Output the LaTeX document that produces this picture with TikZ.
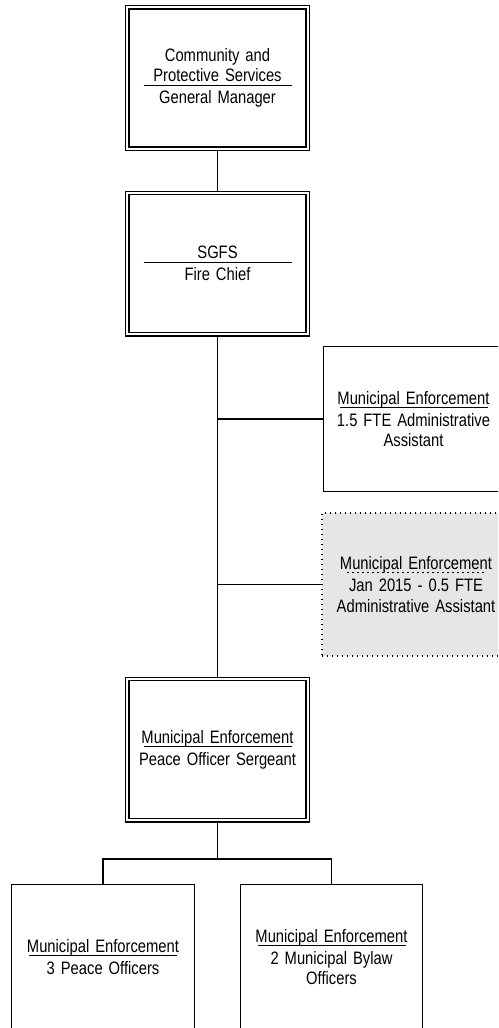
\documentclass[tikz,border=0pt]{standalone}
\usepackage{fontspec}
\setmainfont{Liberation Sans}[FakeStretch=0.82]
\definecolor{tempfill}{RGB}{230,230,230}
% solid divider between the unit name and the position title
\newcommand{\orgrule}{\\[-16.8pt]\rule{148pt}{0.7pt}\\[-2.2pt]}
% dotted divider for the planned position
\newcommand{\orgdots}{\\[-16.8pt]\makebox[141pt]{\leaders\hbox to 5pt{\hss\rule{1.1pt}{1.1pt}\hss}\hfill}\\[-2.2pt]}
\begin{document}
\begin{tikzpicture}[x=1pt,y=-1pt,
  orgtext/.style={align=center, text width=176pt, inner sep=0pt,
    font=\fontsize{18}{20.5}\selectfont,
    execute at begin node={\lineskiplimit=-100pt\relax}},
  dblbox/.style={orgtext, draw, line width=1.3pt, double=white,
    double distance=2pt, minimum width=180.4pt, minimum height=141.4pt,
    outer sep=2.3pt},
  onebox/.style={orgtext, draw, line width=1.4pt},
  tempbox/.style={orgtext, draw, fill=tempfill, line width=1.2pt,
    dash pattern=on 1.2pt off 3.8pt},
  conn/.style={draw, line width=1.4pt}
]
\path[use as bounding box] (0,0) rectangle (498,1028);
\clip (0,0) rectangle (498,1028);

% management chain
\node[dblbox] (gm) at (217.5,78) {Community and\\Protective Services\orgrule General Manager};
\node[dblbox] (chief) at (217.5,263.5) {SGFS\orgrule Fire Chief};
\node[dblbox] (sgt) at (217.5,749.5) {Municipal Enforcement\orgrule Peace Officer Sergeant};

% support staff
\node[onebox, minimum width=180pt, minimum height=145pt] (admin) at (413.5,419)
  {Municipal Enforcement\orgrule 1.5 FTE Administrative\\Assistant};
\node[tempbox, minimum width=188pt, minimum height=143pt] (temp) at (416,584.5)
  {Municipal Enforcement\orgdots Jan 2015 - 0.5 FTE\\Administrative Assistant};

% officers
\node[onebox, minimum width=183pt, minimum height=145pt] (pco) at (103,957)
  {Municipal Enforcement\orgrule 3 Peace Officers};
\node[onebox, minimum width=182pt, minimum height=145pt] (mbo) at (331.5,957)
  {Municipal Enforcement\orgrule 2 Municipal Bylaw\\Officers};

% reporting lines
\draw[conn] (gm.south) -- (chief.north);
\draw[conn] (chief.south) -- (sgt.north);
\draw[conn] (admin.west) -- (admin.west -| chief.south);
\draw[conn] (temp.west) -- (temp.west -| chief.south);
\coordinate (split) at (217.5,859);
\draw[conn] (sgt.south) -- (split);
\draw[conn] (pco.north) |- (split) -| (mbo.north);
\end{tikzpicture}
\end{document}
